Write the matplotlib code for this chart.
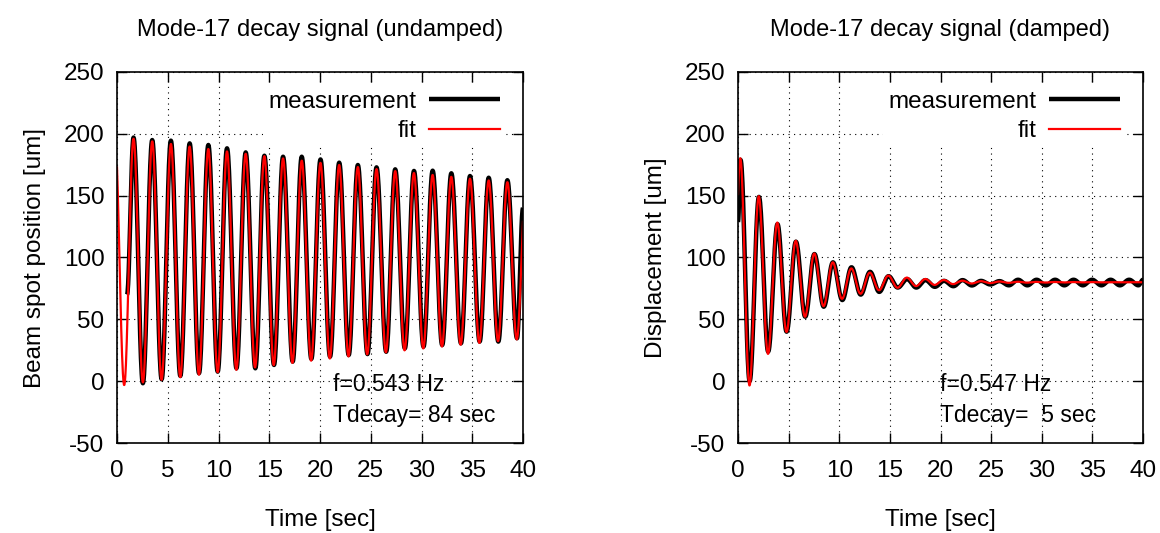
import numpy as np
import matplotlib.pyplot as plt

plt.rcParams['font.family'] = ['Liberation Sans', 'DejaVu Sans']
plt.rcParams['axes.unicode_minus'] = False

# ---- undamped run: turning points of the measured trace (time [s], um) ----
und_start = (0.99, 70)
und_end = (40.0, 140)
und_peak_t = [1.63, 3.47, 5.31, 7.16, 9.0, 10.84, 12.68, 14.52, 16.36, 18.2, 20.05,
              21.89, 23.73, 25.57, 27.41, 29.26, 31.1, 32.94, 34.78, 36.62, 38.46]
und_peak_v = [197, 195, 194.5, 192.3, 191, 188.3, 185, 182.3, 181.5, 181.5, 179.3,
              176.7, 174.8, 172.9, 171.3, 170, 170.2, 168.1, 165.9, 164.5, 162.5]
und_trough_t = [2.55, 4.4, 6.24, 8.08, 9.92, 11.77, 13.63, 15.47, 17.31, 19.15, 20.99,
                22.83, 24.68, 26.52, 28.36, 30.2, 32.04, 33.89, 35.73, 37.57, 39.41]
und_trough_v = [-1.7, 1.5, 4.2, 6.4, 7.7, 10.4, 10.4, 13.1, 15.8, 18, 19.8,
                21.1, 21.9, 23.8, 26.5, 27.9, 29.2, 30.6, 32, 32, 34.7]
# fit parameters (f and Tdecay as printed on the plot)
und_f, und_tdecay = 0.543, 84
und_offset, und_amp, und_tpeak = 97, 101, 1.63

# ---- damped run ----
dmp_start = (0.0, 129)
dmp_end = (40.0, 82)
dmp_peak_t = [0.25, 2.07, 3.9, 5.72, 7.55, 9.38, 11.21, 13.04, 14.87, 16.7, 18.52, 20.35,
              22.18, 24.0, 25.83, 27.66, 29.49, 31.32, 33.14, 34.97, 36.8, 38.63]
dmp_peak_v = [179, 149, 127, 112.8, 102.8, 96.1, 92.1, 88.4, 84.9, 82.5, 81.7, 81.1,
              81.7, 81.1, 80.9, 82, 82, 82, 82, 82, 82, 82]
dmp_trough_t = [1.15, 2.98, 4.8, 6.64, 8.47, 10.3, 12.12, 13.95, 15.78, 17.61, 19.44, 21.27,
                23.1, 24.92, 26.75, 28.58, 30.4, 32.23, 34.06, 35.89, 37.72, 39.55]
dmp_trough_v = [0, 23.9, 40, 52.1, 60.2, 65.6, 70, 72.2, 75.7, 75.7, 76.3, 76.8,
                77.4, 78.2, 77.5, 77.5, 77.5, 77.5, 77.5, 77.5, 77.5, 77.5]
dmp_f, dmp_tdecay = 0.547, 5
dmp_offset, dmp_amp, dmp_tpeak = 80, 105, 0.24

titles = ['Mode-17 decay signal (undamped)', 'Mode-17 decay signal (damped)']
ylabels = ['Beam spot position [um]', 'Displacement [um]']
notes = [('f=0.543 Hz', 'Tdecay= 84 sec'), ('f=0.547 Hz', 'Tdecay=  5 sec')]
note_x = [21.3, 20.0]

FS = 17.5


def trace(start, end, pt, pv, tt, tv):
    # join the turning points with half-cosine swings
    t = np.r_[start[0], pt, tt, end[0]]
    v = np.r_[start[1], pv, tv, end[1]]
    o = np.argsort(t)
    t, v = t[o], v[o]
    s = np.linspace(0, 1, 25)
    xs, ys = [], []
    for i in range(len(t) - 1):
        xs.append(t[i] + s * (t[i + 1] - t[i]))
        ys.append(v[i] + (v[i + 1] - v[i]) * (1 - np.cos(np.pi * s)) / 2)
    return np.concatenate(xs), np.concatenate(ys)


def fit(f, tdecay, offset, amp, tpeak):
    t = np.linspace(0, 40, 2000)
    return t, offset + amp * np.exp(-t / tdecay) * np.cos(2 * np.pi * f * (t - tpeak))


meas = [trace(und_start, und_end, und_peak_t, und_peak_v, und_trough_t, und_trough_v),
        trace(dmp_start, dmp_end, dmp_peak_t, dmp_peak_v, dmp_trough_t, dmp_trough_v)]
fits = [fit(und_f, und_tdecay, und_offset, und_amp, und_tpeak),
        fit(dmp_f, dmp_tdecay, dmp_offset, dmp_amp, dmp_tpeak)]

fig = plt.figure(figsize=(11.6, 5.33), dpi=100)
axes = [fig.add_axes([117 / 1160, 90 / 533, 406 / 1160, 371 / 533]),
        fig.add_axes([738 / 1160, 90 / 533, 405 / 1160, 371 / 533])]

for i, ax in enumerate(axes):
    l1, = ax.plot(*meas[i], color='black', lw=3.2, solid_capstyle='butt', label='measurement')
    l2, = ax.plot(*fits[i], color='red', lw=1.6, label='fit')
    ax.set_xlim(0, 40)
    ax.set_ylim(-50, 250)
    ax.set_xticks(range(0, 41, 5))
    ax.set_yticks(range(-50, 251, 50))
    ax.tick_params(direction='in', top=True, right=True, length=7, width=1,
                   labelsize=FS)
    ax.tick_params(axis='x', pad=12)
    ax.tick_params(axis='y', pad=9)
    ax.grid(True, color='black', linestyle=(0, (1, 4)), linewidth=0.8)
    for sp in ax.spines.values():
        sp.set_linewidth(1.2)
    ax.set_title(titles[i], fontsize=17, pad=26)
    ax.set_xlabel('Time [sec]', fontsize=FS, labelpad=20)
    ax.set_ylabel(ylabels[i], fontsize=FS, labelpad=13)
    ax.text(note_x[i], -3, notes[i][0], fontsize=16.5, va='center')
    ax.text(note_x[i], -28, notes[i][1], fontsize=16.5, va='center')
    ax.legend(handles=[l1, l2], loc='upper right', bbox_to_anchor=(0.985, 0.995),
              fontsize=FS, markerfirst=False, frameon=True, facecolor='white',
              edgecolor='none', framealpha=1, fancybox=False, handlelength=2.9,
              handletextpad=0.55, labelspacing=0.3, borderpad=0.2)

fig.savefig('out.png', dpi=100)
